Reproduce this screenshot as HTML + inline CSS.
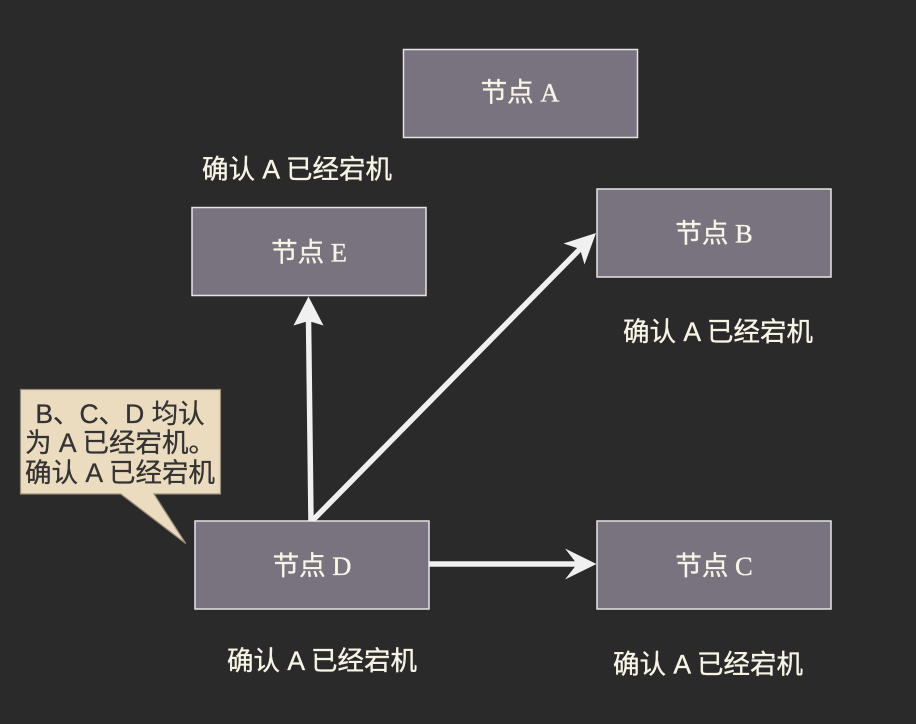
<!DOCTYPE html>
<html>
<head>
<meta charset="utf-8">
<style>
  html, body { margin:0; padding:0; background:#2a2a2a; }
  body { width:916px; height:724px; overflow:hidden; }
  svg { display:block; }
  .node { fill:#79737f; stroke:#e4e4e4; stroke-width:1.5; }
  .nt { font-family:"Liberation Serif","Noto Sans CJK SC",serif; font-size:26.5px; fill:#f8f4e6; stroke:#f8f4e6; stroke-width:0.35; text-anchor:middle; }
  .lb { font-family:"Liberation Sans","Noto Sans CJK SC",sans-serif; font-size:26.5px; fill:#f8f4e6; stroke:#f8f4e6; stroke-width:0.35; text-anchor:middle; }
  .ct { font-family:"Liberation Sans","Noto Sans CJK SC",sans-serif; font-size:26.5px; fill:#333333; stroke:#333333; stroke-width:0.3; text-anchor:middle; }
</style>
</head>
<body>
<svg width="916" height="724" viewBox="0 0 916 724" xmlns="http://www.w3.org/2000/svg">
  <rect x="0" y="0" width="916" height="724" fill="#2a2a2a"/>

  <!-- Nodes -->
  <rect class="node" x="403.5" y="49.5" width="234" height="88"/>
  <text class="nt" x="520" y="101.5">节点 A</text>

  <rect class="node" x="597" y="189" width="234" height="88"/>
  <text class="nt" x="714" y="242.5">节点 B</text>

  <rect class="node" x="192" y="207.5" width="234" height="88"/>
  <text class="nt" x="309" y="261.5">节点 E</text>

  <rect class="node" x="195" y="521" width="234" height="88"/>
  <text class="nt" x="312" y="575">节点 D</text>

  <rect class="node" x="597" y="521" width="234" height="88"/>
  <text class="nt" x="714" y="575">节点 C</text>

  <!-- Labels -->
  <text class="lb" x="297" y="178.5">确认 A 已经宕机</text>
  <text class="lb" x="718" y="341">确认 A 已经宕机</text>
  <text class="lb" x="322" y="670">确认 A 已经宕机</text>
  <text class="lb" x="708" y="673.5">确认 A 已经宕机</text>

  <!-- Connectors -->
  <g stroke="#f0f0f0" stroke-width="5.5" fill="none">
    <line x1="311" y1="521" x2="308.5" y2="318"/>
    <line x1="313" y1="520" x2="581" y2="248"/>
    <line x1="429" y1="564" x2="578" y2="564"/>
  </g>
  <g fill="#f0f0f0" stroke="none">
    <polygon points="308.5,296.5 293.5,325.5 308.5,321 323.5,325.5"/>
    <polygon points="596,233 563.5,243.5 580,249 584.5,264.5"/>
    <polygon points="596.5,564 565,548.5 577,564 565,579.5"/>
  </g>

  <!-- Callout -->
  <path d="M20.5,389.5 H220.5 V494 H154 L185.7,543.5 L120.7,494 H20.5 Z" fill="#ecdcbf" stroke="#968b78" stroke-width="1.2"/>
  <text class="ct" x="120" y="423">B、C、D 均认</text>
  <text class="ct" x="120" y="452">为 A 已经宕机。</text>
  <text class="ct" x="120" y="482">确认 A 已经宕机</text>
</svg>
</body>
</html>
